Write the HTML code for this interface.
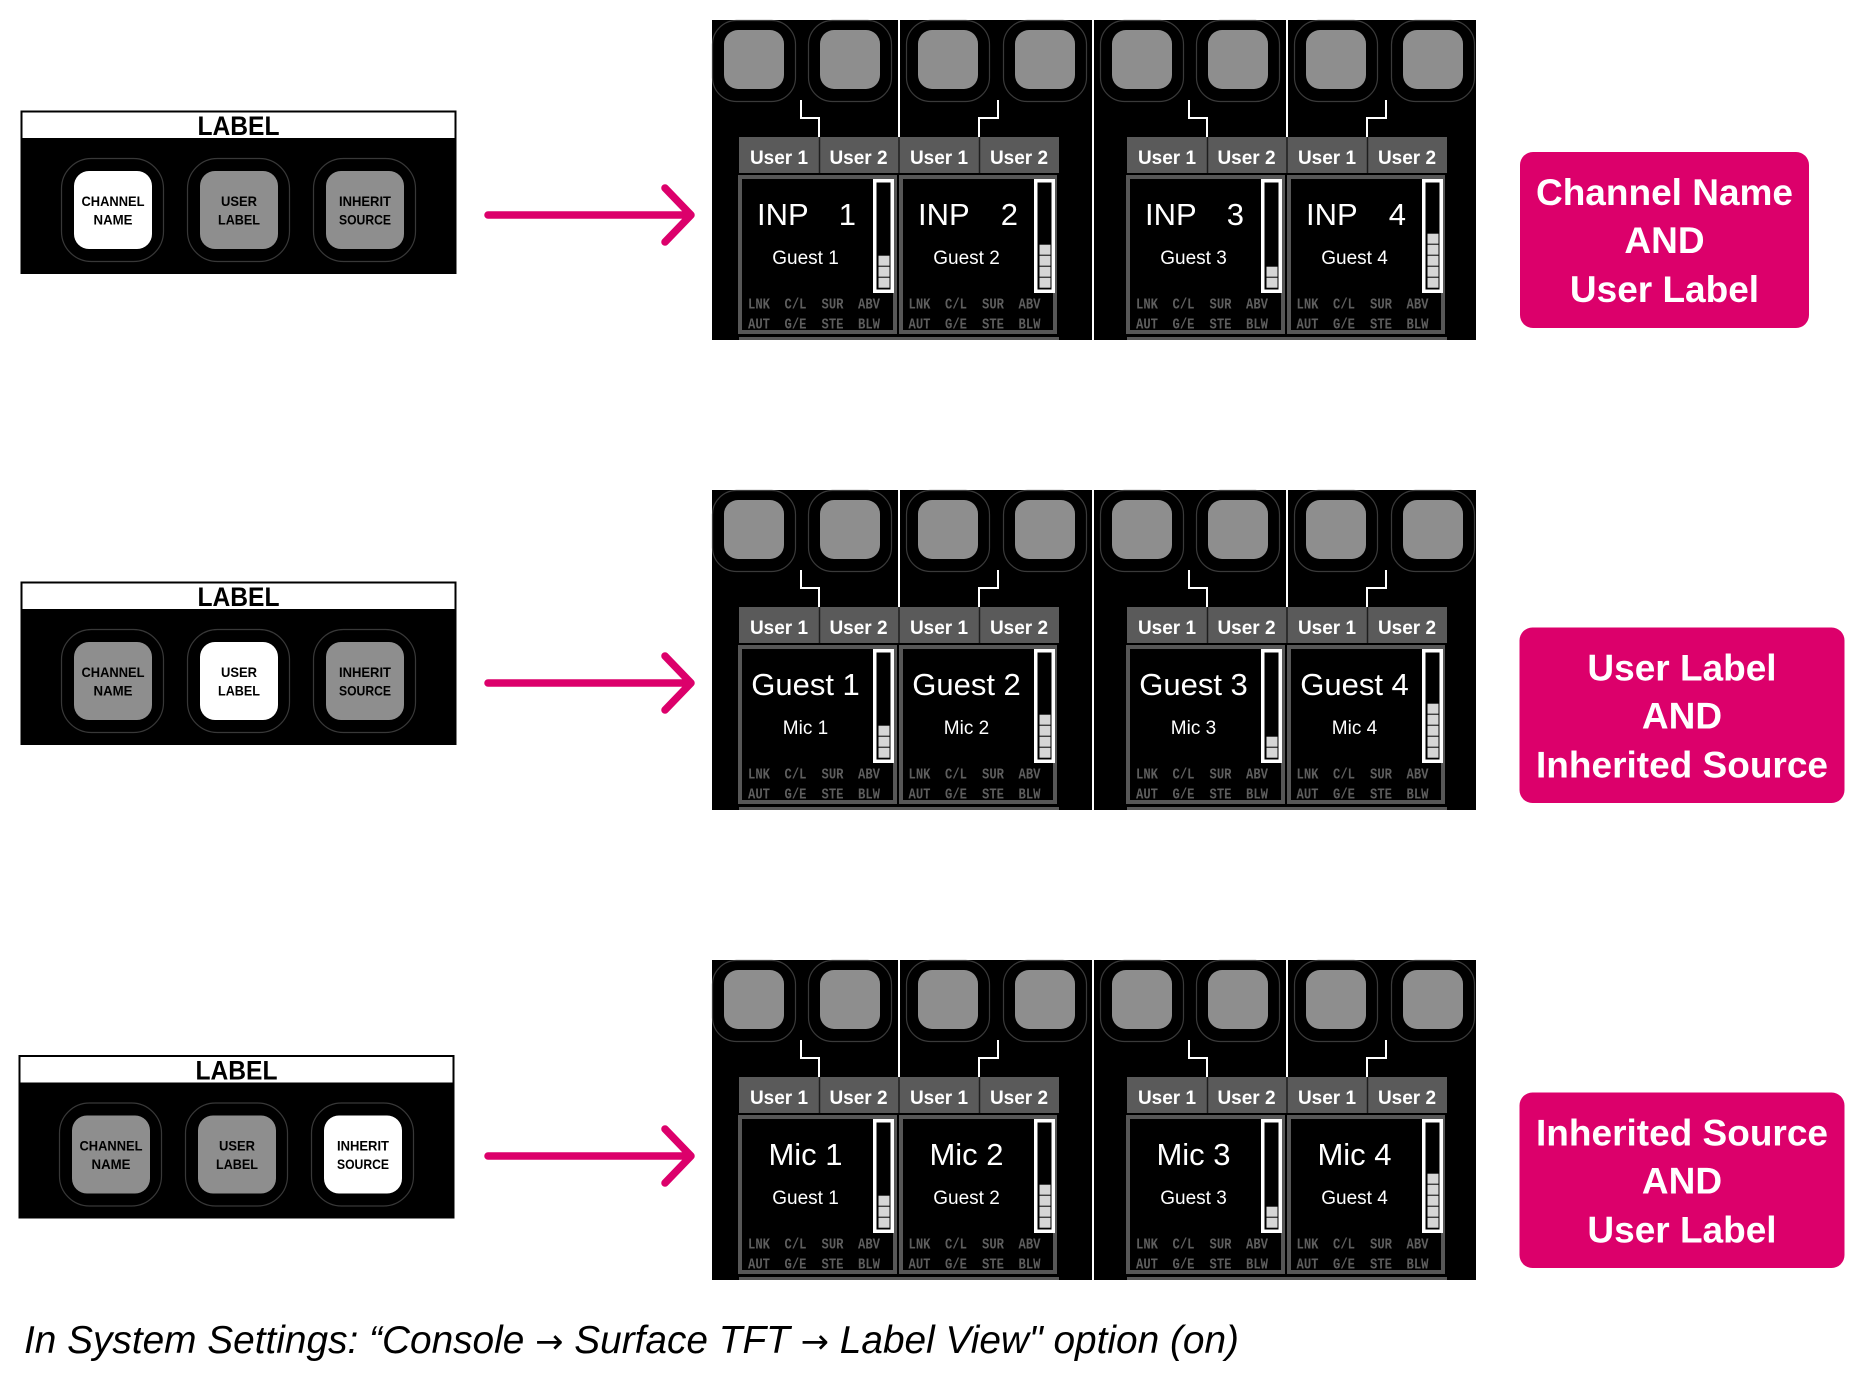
<!DOCTYPE html>
<html><head><meta charset="utf-8">
<style>html,body{margin:0;padding:0;background:#fff;}svg{display:block}</style>
</head><body>
<svg width="1860" height="1400" viewBox="0 0 1860 1400" xmlns="http://www.w3.org/2000/svg" font-family="'Liberation Sans', sans-serif">
<rect width="1860" height="1400" fill="#fff"/>

<!-- ================= LABEL PANELS ================= -->
<g>
<rect x="20.5" y="110.5" width="436" height="163.5" fill="#000"/>
<rect x="22.5" y="112.5" width="432" height="25.5" fill="#fff"/>
<text x="238.5" y="135" font-size="27" font-weight="bold" text-anchor="middle" textLength="82" lengthAdjust="spacingAndGlyphs">LABEL</text>
<rect x="61.5" y="158.5" width="102" height="103" rx="30" fill="none" stroke="#383838" stroke-width="1.2"/>
<rect x="187.5" y="158.5" width="102" height="103" rx="30" fill="none" stroke="#383838" stroke-width="1.2"/>
<rect x="313.5" y="158.5" width="102" height="103" rx="30" fill="none" stroke="#383838" stroke-width="1.2"/>
<rect x="74" y="171" width="78" height="78" rx="15" fill="#fff"/>
<rect x="200" y="171" width="78" height="78" rx="15" fill="#8e8e8e"/>
<rect x="326" y="171" width="78" height="78" rx="15" fill="#8e8e8e"/>
<g font-size="14" font-weight="bold" text-anchor="middle" fill="#000">
<text x="113" y="206" textLength="63" lengthAdjust="spacingAndGlyphs">CHANNEL</text><text x="113" y="224.5" textLength="39" lengthAdjust="spacingAndGlyphs">NAME</text>
<text x="239" y="206" textLength="36" lengthAdjust="spacingAndGlyphs">USER</text><text x="239" y="224.5" textLength="42" lengthAdjust="spacingAndGlyphs">LABEL</text>
<text x="365" y="206" textLength="52" lengthAdjust="spacingAndGlyphs">INHERIT</text><text x="365" y="224.5" textLength="52" lengthAdjust="spacingAndGlyphs">SOURCE</text>
</g>
</g>

<g transform="translate(0,471)">
<rect x="20.5" y="110.5" width="436" height="163.5" fill="#000"/>
<rect x="22.5" y="112.5" width="432" height="25.5" fill="#fff"/>
<text x="238.5" y="135" font-size="27" font-weight="bold" text-anchor="middle" textLength="82" lengthAdjust="spacingAndGlyphs">LABEL</text>
<rect x="61.5" y="158.5" width="102" height="103" rx="30" fill="none" stroke="#383838" stroke-width="1.2"/>
<rect x="187.5" y="158.5" width="102" height="103" rx="30" fill="none" stroke="#383838" stroke-width="1.2"/>
<rect x="313.5" y="158.5" width="102" height="103" rx="30" fill="none" stroke="#383838" stroke-width="1.2"/>
<rect x="74" y="171" width="78" height="78" rx="15" fill="#8e8e8e"/>
<rect x="200" y="171" width="78" height="78" rx="15" fill="#fff"/>
<rect x="326" y="171" width="78" height="78" rx="15" fill="#8e8e8e"/>
<g font-size="14" font-weight="bold" text-anchor="middle" fill="#000">
<text x="113" y="206" textLength="63" lengthAdjust="spacingAndGlyphs">CHANNEL</text><text x="113" y="224.5" textLength="39" lengthAdjust="spacingAndGlyphs">NAME</text>
<text x="239" y="206" textLength="36" lengthAdjust="spacingAndGlyphs">USER</text><text x="239" y="224.5" textLength="42" lengthAdjust="spacingAndGlyphs">LABEL</text>
<text x="365" y="206" textLength="52" lengthAdjust="spacingAndGlyphs">INHERIT</text><text x="365" y="224.5" textLength="52" lengthAdjust="spacingAndGlyphs">SOURCE</text>
</g>
</g>

<g transform="translate(-2,944.5)">
<rect x="20.5" y="110.5" width="436" height="163.5" fill="#000"/>
<rect x="22.5" y="112.5" width="432" height="25.5" fill="#fff"/>
<text x="238.5" y="135" font-size="27" font-weight="bold" text-anchor="middle" textLength="82" lengthAdjust="spacingAndGlyphs">LABEL</text>
<rect x="61.5" y="158.5" width="102" height="103" rx="30" fill="none" stroke="#383838" stroke-width="1.2"/>
<rect x="187.5" y="158.5" width="102" height="103" rx="30" fill="none" stroke="#383838" stroke-width="1.2"/>
<rect x="313.5" y="158.5" width="102" height="103" rx="30" fill="none" stroke="#383838" stroke-width="1.2"/>
<rect x="74" y="171" width="78" height="78" rx="15" fill="#8e8e8e"/>
<rect x="200" y="171" width="78" height="78" rx="15" fill="#8e8e8e"/>
<rect x="326" y="171" width="78" height="78" rx="15" fill="#fff"/>
<g font-size="14" font-weight="bold" text-anchor="middle" fill="#000">
<text x="113" y="206" textLength="63" lengthAdjust="spacingAndGlyphs">CHANNEL</text><text x="113" y="224.5" textLength="39" lengthAdjust="spacingAndGlyphs">NAME</text>
<text x="239" y="206" textLength="36" lengthAdjust="spacingAndGlyphs">USER</text><text x="239" y="224.5" textLength="42" lengthAdjust="spacingAndGlyphs">LABEL</text>
<text x="365" y="206" textLength="52" lengthAdjust="spacingAndGlyphs">INHERIT</text><text x="365" y="224.5" textLength="52" lengthAdjust="spacingAndGlyphs">SOURCE</text>
</g>
</g>

<!-- ================= ARROWS ================= -->
<g fill="none" stroke="#dc006b" stroke-width="7.5" stroke-linecap="round" stroke-linejoin="round">
<path d="M488,215 H690 M665,188 L691,215 L665,242"/>
<path d="M488,683 H690 M665,656 L691,683 L665,710"/>
<path d="M488,1156 H690 M665,1129 L691,1156 L665,1183"/>
</g>

<!-- ================= PINK BOXES ================= -->
<rect x="1520" y="152" width="289" height="176" rx="13" fill="#dc006b"/>
<rect x="1519.5" y="627.5" width="325" height="175.5" rx="13" fill="#dc006b"/>
<rect x="1519.5" y="1092.5" width="325" height="175.5" rx="13" fill="#dc006b"/>
<g font-size="37" font-weight="bold" fill="#fff" text-anchor="middle">
<text x="1664.5" y="205">Channel Name</text>
<text x="1664.5" y="253">AND</text>
<text x="1664.5" y="302">User Label</text>
<text x="1682" y="680.5">User Label</text>
<text x="1682" y="728.5">AND</text>
<text x="1682" y="777.5">Inherited Source</text>
<text x="1682" y="1145.5">Inherited Source</text>
<text x="1682" y="1193.5">AND</text>
<text x="1682" y="1242.5">User Label</text>
</g>

<!-- ================= BOTTOM TEXT ================= -->
<text x="24" y="1353" font-size="39" font-style="italic" fill="#000" textLength="1215" lengthAdjust="spacingAndGlyphs">In System Settings: “Console <tspan font-family="'DejaVu Sans', sans-serif" font-style="normal" font-size="34">→</tspan> Surface TFT <tspan font-family="'DejaVu Sans', sans-serif" font-style="normal" font-size="34">→</tspan> Label View&quot; option (on)</text>

<!-- ================= SCREEN BLOCK BACKGROUNDS ================= -->
<rect x="712" y="20" width="380" height="320" fill="#000"/>
<rect x="1094" y="20" width="382" height="320" fill="#000"/>
<rect x="712" y="490" width="380" height="320" fill="#000"/>
<rect x="1094" y="490" width="382" height="320" fill="#000"/>
<rect x="712" y="960" width="380" height="320" fill="#000"/>
<rect x="1094" y="960" width="382" height="320" fill="#000"/>

<!-- ========== BLOCK: row0 block1 ========== -->
<g transform="translate(0,0)">
<g fill="none" stroke="#3a3a3a" stroke-width="1.2">
<rect x="712.5" y="20.5" width="83" height="81" rx="24"/><rect x="808.5" y="20.5" width="83" height="81" rx="24"/>
<rect x="906.5" y="20.5" width="83" height="81" rx="24"/><rect x="1003.5" y="20.5" width="83" height="81" rx="24"/>
</g>
<g fill="#8e8e8e">
<rect x="724" y="30" width="60" height="59" rx="14"/><rect x="820" y="30" width="60" height="59" rx="14"/>
<rect x="918" y="30" width="60" height="59" rx="14"/><rect x="1015" y="30" width="60" height="59" rx="14"/>
</g>
<rect x="898" y="20" width="2" height="117" fill="#fff"/>
<g fill="none" stroke="#fff" stroke-width="2">
<polyline points="801,100 801,118 819,118 819,137"/><polyline points="998,100 998,118 979,118 979,137"/>
</g>
<rect x="739" y="137" width="320" height="36" fill="#5a5a5a"/>
<rect x="739" y="337" width="320" height="3" fill="#5a5a5a"/>
<g stroke="#1e1e1e" stroke-width="1.5"><line x1="819.5" y1="137" x2="819.5" y2="173"/><line x1="899" y1="137" x2="899" y2="173"/><line x1="979.5" y1="137" x2="979.5" y2="173"/></g>
<g font-size="19" font-weight="bold" fill="#fff" text-anchor="middle">
<text x="779" y="164">User 1</text><text x="858.5" y="164">User 2</text><text x="939" y="164">User 1</text><text x="1019" y="164">User 2</text>
</g>
<rect x="738" y="175" width="159" height="159" fill="#575757"/><rect x="742" y="179" width="151" height="151" fill="#000"/>
<rect x="899" y="175" width="158" height="159" fill="#575757"/><rect x="903" y="179" width="150" height="151" fill="#000"/>
<g fill="none" stroke="#fff" stroke-width="3.5"><rect x="874.75" y="180.75" width="17.5" height="110.5"/><rect x="1035.75" y="180.75" width="17.5" height="110.5"/></g>
<g font-family="'Liberation Mono', monospace" font-size="15" font-weight="bold" fill="#5e5e5e">
<text x="748" y="308.3" textLength="22" lengthAdjust="spacingAndGlyphs">LNK</text><text x="784.5" y="308.3" textLength="22" lengthAdjust="spacingAndGlyphs">C/L</text><text x="821.5" y="308.3" textLength="22" lengthAdjust="spacingAndGlyphs">SUR</text><text x="858" y="308.3" textLength="22" lengthAdjust="spacingAndGlyphs">ABV</text>
<text x="748" y="328.3" textLength="22" lengthAdjust="spacingAndGlyphs">AUT</text><text x="784.5" y="328.3" textLength="22" lengthAdjust="spacingAndGlyphs">G/E</text><text x="821.5" y="328.3" textLength="22" lengthAdjust="spacingAndGlyphs">STE</text><text x="858" y="328.3" textLength="22" lengthAdjust="spacingAndGlyphs">BLW</text>
<text x="908.5" y="308.3" textLength="22" lengthAdjust="spacingAndGlyphs">LNK</text><text x="945" y="308.3" textLength="22" lengthAdjust="spacingAndGlyphs">C/L</text><text x="982" y="308.3" textLength="22" lengthAdjust="spacingAndGlyphs">SUR</text><text x="1018.5" y="308.3" textLength="22" lengthAdjust="spacingAndGlyphs">ABV</text>
<text x="908.5" y="328.3" textLength="22" lengthAdjust="spacingAndGlyphs">AUT</text><text x="945" y="328.3" textLength="22" lengthAdjust="spacingAndGlyphs">G/E</text><text x="982" y="328.3" textLength="22" lengthAdjust="spacingAndGlyphs">STE</text><text x="1018.5" y="328.3" textLength="22" lengthAdjust="spacingAndGlyphs">BLW</text>
</g>
</g>
<g fill="#d6d6d6">
<rect x="878.5" y="277.7" width="11" height="10"/><rect x="878.5" y="266.7" width="11" height="10"/><rect x="878.5" y="255.7" width="11" height="10"/>
<rect x="1039.5" y="277.7" width="11" height="10"/><rect x="1039.5" y="266.7" width="11" height="10"/><rect x="1039.5" y="255.7" width="11" height="10"/><rect x="1039.5" y="244.7" width="11" height="10"/>
</g>
<g fill="#fff">
<text x="757" y="225" font-size="31">INP</text><text x="856" y="225" font-size="31" text-anchor="end">1</text>
<text x="805.5" y="264" font-size="19" text-anchor="middle">Guest 1</text>
<text x="918" y="225" font-size="31">INP</text><text x="1018" y="225" font-size="31" text-anchor="end">2</text>
<text x="966.5" y="264" font-size="19" text-anchor="middle">Guest 2</text>
</g>

<!-- ========== BLOCK: row0 block2 ========== -->
<g transform="translate(388,0)">
<g fill="none" stroke="#3a3a3a" stroke-width="1.2">
<rect x="712.5" y="20.5" width="83" height="81" rx="24"/><rect x="808.5" y="20.5" width="83" height="81" rx="24"/>
<rect x="906.5" y="20.5" width="83" height="81" rx="24"/><rect x="1003.5" y="20.5" width="83" height="81" rx="24"/>
</g>
<g fill="#8e8e8e">
<rect x="724" y="30" width="60" height="59" rx="14"/><rect x="820" y="30" width="60" height="59" rx="14"/>
<rect x="918" y="30" width="60" height="59" rx="14"/><rect x="1015" y="30" width="60" height="59" rx="14"/>
</g>
<rect x="898" y="20" width="2" height="117" fill="#fff"/>
<g fill="none" stroke="#fff" stroke-width="2">
<polyline points="801,100 801,118 819,118 819,137"/><polyline points="998,100 998,118 979,118 979,137"/>
</g>
<rect x="739" y="137" width="320" height="36" fill="#5a5a5a"/>
<rect x="739" y="337" width="320" height="3" fill="#5a5a5a"/>
<g stroke="#1e1e1e" stroke-width="1.5"><line x1="819.5" y1="137" x2="819.5" y2="173"/><line x1="899" y1="137" x2="899" y2="173"/><line x1="979.5" y1="137" x2="979.5" y2="173"/></g>
<g font-size="19" font-weight="bold" fill="#fff" text-anchor="middle">
<text x="779" y="164">User 1</text><text x="858.5" y="164">User 2</text><text x="939" y="164">User 1</text><text x="1019" y="164">User 2</text>
</g>
<rect x="738" y="175" width="159" height="159" fill="#575757"/><rect x="742" y="179" width="151" height="151" fill="#000"/>
<rect x="899" y="175" width="158" height="159" fill="#575757"/><rect x="903" y="179" width="150" height="151" fill="#000"/>
<g fill="none" stroke="#fff" stroke-width="3.5"><rect x="874.75" y="180.75" width="17.5" height="110.5"/><rect x="1035.75" y="180.75" width="17.5" height="110.5"/></g>
<g font-family="'Liberation Mono', monospace" font-size="15" font-weight="bold" fill="#5e5e5e">
<text x="748" y="308.3" textLength="22" lengthAdjust="spacingAndGlyphs">LNK</text><text x="784.5" y="308.3" textLength="22" lengthAdjust="spacingAndGlyphs">C/L</text><text x="821.5" y="308.3" textLength="22" lengthAdjust="spacingAndGlyphs">SUR</text><text x="858" y="308.3" textLength="22" lengthAdjust="spacingAndGlyphs">ABV</text>
<text x="748" y="328.3" textLength="22" lengthAdjust="spacingAndGlyphs">AUT</text><text x="784.5" y="328.3" textLength="22" lengthAdjust="spacingAndGlyphs">G/E</text><text x="821.5" y="328.3" textLength="22" lengthAdjust="spacingAndGlyphs">STE</text><text x="858" y="328.3" textLength="22" lengthAdjust="spacingAndGlyphs">BLW</text>
<text x="908.5" y="308.3" textLength="22" lengthAdjust="spacingAndGlyphs">LNK</text><text x="945" y="308.3" textLength="22" lengthAdjust="spacingAndGlyphs">C/L</text><text x="982" y="308.3" textLength="22" lengthAdjust="spacingAndGlyphs">SUR</text><text x="1018.5" y="308.3" textLength="22" lengthAdjust="spacingAndGlyphs">ABV</text>
<text x="908.5" y="328.3" textLength="22" lengthAdjust="spacingAndGlyphs">AUT</text><text x="945" y="328.3" textLength="22" lengthAdjust="spacingAndGlyphs">G/E</text><text x="982" y="328.3" textLength="22" lengthAdjust="spacingAndGlyphs">STE</text><text x="1018.5" y="328.3" textLength="22" lengthAdjust="spacingAndGlyphs">BLW</text>
</g>
<g fill="#d6d6d6">
<rect x="878.5" y="277.7" width="11" height="10"/><rect x="878.5" y="266.7" width="11" height="10"/>
<rect x="1039.5" y="277.7" width="11" height="10"/><rect x="1039.5" y="266.7" width="11" height="10"/><rect x="1039.5" y="255.7" width="11" height="10"/><rect x="1039.5" y="244.7" width="11" height="10"/><rect x="1039.5" y="233.7" width="11" height="10"/>
</g>
<g fill="#fff">
<text x="757" y="225" font-size="31">INP</text><text x="856" y="225" font-size="31" text-anchor="end">3</text>
<text x="805.5" y="264" font-size="19" text-anchor="middle">Guest 3</text>
<text x="918" y="225" font-size="31">INP</text><text x="1018" y="225" font-size="31" text-anchor="end">4</text>
<text x="966.5" y="264" font-size="19" text-anchor="middle">Guest 4</text>
</g>
</g>

<!-- ========== BLOCK: row1 block1 ========== -->
<g transform="translate(0,470)">
<g fill="none" stroke="#3a3a3a" stroke-width="1.2">
<rect x="712.5" y="20.5" width="83" height="81" rx="24"/><rect x="808.5" y="20.5" width="83" height="81" rx="24"/>
<rect x="906.5" y="20.5" width="83" height="81" rx="24"/><rect x="1003.5" y="20.5" width="83" height="81" rx="24"/>
</g>
<g fill="#8e8e8e">
<rect x="724" y="30" width="60" height="59" rx="14"/><rect x="820" y="30" width="60" height="59" rx="14"/>
<rect x="918" y="30" width="60" height="59" rx="14"/><rect x="1015" y="30" width="60" height="59" rx="14"/>
</g>
<rect x="898" y="20" width="2" height="117" fill="#fff"/>
<g fill="none" stroke="#fff" stroke-width="2">
<polyline points="801,100 801,118 819,118 819,137"/><polyline points="998,100 998,118 979,118 979,137"/>
</g>
<rect x="739" y="137" width="320" height="36" fill="#5a5a5a"/>
<rect x="739" y="337" width="320" height="3" fill="#5a5a5a"/>
<g stroke="#1e1e1e" stroke-width="1.5"><line x1="819.5" y1="137" x2="819.5" y2="173"/><line x1="899" y1="137" x2="899" y2="173"/><line x1="979.5" y1="137" x2="979.5" y2="173"/></g>
<g font-size="19" font-weight="bold" fill="#fff" text-anchor="middle">
<text x="779" y="164">User 1</text><text x="858.5" y="164">User 2</text><text x="939" y="164">User 1</text><text x="1019" y="164">User 2</text>
</g>
<rect x="738" y="175" width="159" height="159" fill="#575757"/><rect x="742" y="179" width="151" height="151" fill="#000"/>
<rect x="899" y="175" width="158" height="159" fill="#575757"/><rect x="903" y="179" width="150" height="151" fill="#000"/>
<g fill="none" stroke="#fff" stroke-width="3.5"><rect x="874.75" y="180.75" width="17.5" height="110.5"/><rect x="1035.75" y="180.75" width="17.5" height="110.5"/></g>
<g font-family="'Liberation Mono', monospace" font-size="15" font-weight="bold" fill="#5e5e5e">
<text x="748" y="308.3" textLength="22" lengthAdjust="spacingAndGlyphs">LNK</text><text x="784.5" y="308.3" textLength="22" lengthAdjust="spacingAndGlyphs">C/L</text><text x="821.5" y="308.3" textLength="22" lengthAdjust="spacingAndGlyphs">SUR</text><text x="858" y="308.3" textLength="22" lengthAdjust="spacingAndGlyphs">ABV</text>
<text x="748" y="328.3" textLength="22" lengthAdjust="spacingAndGlyphs">AUT</text><text x="784.5" y="328.3" textLength="22" lengthAdjust="spacingAndGlyphs">G/E</text><text x="821.5" y="328.3" textLength="22" lengthAdjust="spacingAndGlyphs">STE</text><text x="858" y="328.3" textLength="22" lengthAdjust="spacingAndGlyphs">BLW</text>
<text x="908.5" y="308.3" textLength="22" lengthAdjust="spacingAndGlyphs">LNK</text><text x="945" y="308.3" textLength="22" lengthAdjust="spacingAndGlyphs">C/L</text><text x="982" y="308.3" textLength="22" lengthAdjust="spacingAndGlyphs">SUR</text><text x="1018.5" y="308.3" textLength="22" lengthAdjust="spacingAndGlyphs">ABV</text>
<text x="908.5" y="328.3" textLength="22" lengthAdjust="spacingAndGlyphs">AUT</text><text x="945" y="328.3" textLength="22" lengthAdjust="spacingAndGlyphs">G/E</text><text x="982" y="328.3" textLength="22" lengthAdjust="spacingAndGlyphs">STE</text><text x="1018.5" y="328.3" textLength="22" lengthAdjust="spacingAndGlyphs">BLW</text>
</g>
<g fill="#d6d6d6">
<rect x="878.5" y="277.7" width="11" height="10"/><rect x="878.5" y="266.7" width="11" height="10"/><rect x="878.5" y="255.7" width="11" height="10"/>
<rect x="1039.5" y="277.7" width="11" height="10"/><rect x="1039.5" y="266.7" width="11" height="10"/><rect x="1039.5" y="255.7" width="11" height="10"/><rect x="1039.5" y="244.7" width="11" height="10"/>
</g>
<g fill="#fff" text-anchor="middle">
<text x="805.5" y="225" font-size="31">Guest 1</text>
<text x="805.5" y="264" font-size="19">Mic 1</text>
<text x="966.5" y="225" font-size="31">Guest 2</text>
<text x="966.5" y="264" font-size="19">Mic 2</text>
</g>
</g>

<!-- ========== BLOCK: row1 block2 ========== -->
<g transform="translate(388,470)">
<g fill="none" stroke="#3a3a3a" stroke-width="1.2">
<rect x="712.5" y="20.5" width="83" height="81" rx="24"/><rect x="808.5" y="20.5" width="83" height="81" rx="24"/>
<rect x="906.5" y="20.5" width="83" height="81" rx="24"/><rect x="1003.5" y="20.5" width="83" height="81" rx="24"/>
</g>
<g fill="#8e8e8e">
<rect x="724" y="30" width="60" height="59" rx="14"/><rect x="820" y="30" width="60" height="59" rx="14"/>
<rect x="918" y="30" width="60" height="59" rx="14"/><rect x="1015" y="30" width="60" height="59" rx="14"/>
</g>
<rect x="898" y="20" width="2" height="117" fill="#fff"/>
<g fill="none" stroke="#fff" stroke-width="2">
<polyline points="801,100 801,118 819,118 819,137"/><polyline points="998,100 998,118 979,118 979,137"/>
</g>
<rect x="739" y="137" width="320" height="36" fill="#5a5a5a"/>
<rect x="739" y="337" width="320" height="3" fill="#5a5a5a"/>
<g stroke="#1e1e1e" stroke-width="1.5"><line x1="819.5" y1="137" x2="819.5" y2="173"/><line x1="899" y1="137" x2="899" y2="173"/><line x1="979.5" y1="137" x2="979.5" y2="173"/></g>
<g font-size="19" font-weight="bold" fill="#fff" text-anchor="middle">
<text x="779" y="164">User 1</text><text x="858.5" y="164">User 2</text><text x="939" y="164">User 1</text><text x="1019" y="164">User 2</text>
</g>
<rect x="738" y="175" width="159" height="159" fill="#575757"/><rect x="742" y="179" width="151" height="151" fill="#000"/>
<rect x="899" y="175" width="158" height="159" fill="#575757"/><rect x="903" y="179" width="150" height="151" fill="#000"/>
<g fill="none" stroke="#fff" stroke-width="3.5"><rect x="874.75" y="180.75" width="17.5" height="110.5"/><rect x="1035.75" y="180.75" width="17.5" height="110.5"/></g>
<g font-family="'Liberation Mono', monospace" font-size="15" font-weight="bold" fill="#5e5e5e">
<text x="748" y="308.3" textLength="22" lengthAdjust="spacingAndGlyphs">LNK</text><text x="784.5" y="308.3" textLength="22" lengthAdjust="spacingAndGlyphs">C/L</text><text x="821.5" y="308.3" textLength="22" lengthAdjust="spacingAndGlyphs">SUR</text><text x="858" y="308.3" textLength="22" lengthAdjust="spacingAndGlyphs">ABV</text>
<text x="748" y="328.3" textLength="22" lengthAdjust="spacingAndGlyphs">AUT</text><text x="784.5" y="328.3" textLength="22" lengthAdjust="spacingAndGlyphs">G/E</text><text x="821.5" y="328.3" textLength="22" lengthAdjust="spacingAndGlyphs">STE</text><text x="858" y="328.3" textLength="22" lengthAdjust="spacingAndGlyphs">BLW</text>
<text x="908.5" y="308.3" textLength="22" lengthAdjust="spacingAndGlyphs">LNK</text><text x="945" y="308.3" textLength="22" lengthAdjust="spacingAndGlyphs">C/L</text><text x="982" y="308.3" textLength="22" lengthAdjust="spacingAndGlyphs">SUR</text><text x="1018.5" y="308.3" textLength="22" lengthAdjust="spacingAndGlyphs">ABV</text>
<text x="908.5" y="328.3" textLength="22" lengthAdjust="spacingAndGlyphs">AUT</text><text x="945" y="328.3" textLength="22" lengthAdjust="spacingAndGlyphs">G/E</text><text x="982" y="328.3" textLength="22" lengthAdjust="spacingAndGlyphs">STE</text><text x="1018.5" y="328.3" textLength="22" lengthAdjust="spacingAndGlyphs">BLW</text>
</g>
<g fill="#d6d6d6">
<rect x="878.5" y="277.7" width="11" height="10"/><rect x="878.5" y="266.7" width="11" height="10"/>
<rect x="1039.5" y="277.7" width="11" height="10"/><rect x="1039.5" y="266.7" width="11" height="10"/><rect x="1039.5" y="255.7" width="11" height="10"/><rect x="1039.5" y="244.7" width="11" height="10"/><rect x="1039.5" y="233.7" width="11" height="10"/>
</g>
<g fill="#fff" text-anchor="middle">
<text x="805.5" y="225" font-size="31">Guest 3</text>
<text x="805.5" y="264" font-size="19">Mic 3</text>
<text x="966.5" y="225" font-size="31">Guest 4</text>
<text x="966.5" y="264" font-size="19">Mic 4</text>
</g>
</g>

<!-- ========== BLOCK: row2 block1 ========== -->
<g transform="translate(0,940)">
<g fill="none" stroke="#3a3a3a" stroke-width="1.2">
<rect x="712.5" y="20.5" width="83" height="81" rx="24"/><rect x="808.5" y="20.5" width="83" height="81" rx="24"/>
<rect x="906.5" y="20.5" width="83" height="81" rx="24"/><rect x="1003.5" y="20.5" width="83" height="81" rx="24"/>
</g>
<g fill="#8e8e8e">
<rect x="724" y="30" width="60" height="59" rx="14"/><rect x="820" y="30" width="60" height="59" rx="14"/>
<rect x="918" y="30" width="60" height="59" rx="14"/><rect x="1015" y="30" width="60" height="59" rx="14"/>
</g>
<rect x="898" y="20" width="2" height="117" fill="#fff"/>
<g fill="none" stroke="#fff" stroke-width="2">
<polyline points="801,100 801,118 819,118 819,137"/><polyline points="998,100 998,118 979,118 979,137"/>
</g>
<rect x="739" y="137" width="320" height="36" fill="#5a5a5a"/>
<rect x="739" y="337" width="320" height="3" fill="#5a5a5a"/>
<g stroke="#1e1e1e" stroke-width="1.5"><line x1="819.5" y1="137" x2="819.5" y2="173"/><line x1="899" y1="137" x2="899" y2="173"/><line x1="979.5" y1="137" x2="979.5" y2="173"/></g>
<g font-size="19" font-weight="bold" fill="#fff" text-anchor="middle">
<text x="779" y="164">User 1</text><text x="858.5" y="164">User 2</text><text x="939" y="164">User 1</text><text x="1019" y="164">User 2</text>
</g>
<rect x="738" y="175" width="159" height="159" fill="#575757"/><rect x="742" y="179" width="151" height="151" fill="#000"/>
<rect x="899" y="175" width="158" height="159" fill="#575757"/><rect x="903" y="179" width="150" height="151" fill="#000"/>
<g fill="none" stroke="#fff" stroke-width="3.5"><rect x="874.75" y="180.75" width="17.5" height="110.5"/><rect x="1035.75" y="180.75" width="17.5" height="110.5"/></g>
<g font-family="'Liberation Mono', monospace" font-size="15" font-weight="bold" fill="#5e5e5e">
<text x="748" y="308.3" textLength="22" lengthAdjust="spacingAndGlyphs">LNK</text><text x="784.5" y="308.3" textLength="22" lengthAdjust="spacingAndGlyphs">C/L</text><text x="821.5" y="308.3" textLength="22" lengthAdjust="spacingAndGlyphs">SUR</text><text x="858" y="308.3" textLength="22" lengthAdjust="spacingAndGlyphs">ABV</text>
<text x="748" y="328.3" textLength="22" lengthAdjust="spacingAndGlyphs">AUT</text><text x="784.5" y="328.3" textLength="22" lengthAdjust="spacingAndGlyphs">G/E</text><text x="821.5" y="328.3" textLength="22" lengthAdjust="spacingAndGlyphs">STE</text><text x="858" y="328.3" textLength="22" lengthAdjust="spacingAndGlyphs">BLW</text>
<text x="908.5" y="308.3" textLength="22" lengthAdjust="spacingAndGlyphs">LNK</text><text x="945" y="308.3" textLength="22" lengthAdjust="spacingAndGlyphs">C/L</text><text x="982" y="308.3" textLength="22" lengthAdjust="spacingAndGlyphs">SUR</text><text x="1018.5" y="308.3" textLength="22" lengthAdjust="spacingAndGlyphs">ABV</text>
<text x="908.5" y="328.3" textLength="22" lengthAdjust="spacingAndGlyphs">AUT</text><text x="945" y="328.3" textLength="22" lengthAdjust="spacingAndGlyphs">G/E</text><text x="982" y="328.3" textLength="22" lengthAdjust="spacingAndGlyphs">STE</text><text x="1018.5" y="328.3" textLength="22" lengthAdjust="spacingAndGlyphs">BLW</text>
</g>
<g fill="#d6d6d6">
<rect x="878.5" y="277.7" width="11" height="10"/><rect x="878.5" y="266.7" width="11" height="10"/><rect x="878.5" y="255.7" width="11" height="10"/>
<rect x="1039.5" y="277.7" width="11" height="10"/><rect x="1039.5" y="266.7" width="11" height="10"/><rect x="1039.5" y="255.7" width="11" height="10"/><rect x="1039.5" y="244.7" width="11" height="10"/>
</g>
<g fill="#fff" text-anchor="middle">
<text x="805.5" y="225" font-size="31">Mic 1</text>
<text x="805.5" y="264" font-size="19">Guest 1</text>
<text x="966.5" y="225" font-size="31">Mic 2</text>
<text x="966.5" y="264" font-size="19">Guest 2</text>
</g>
</g>

<!-- ========== BLOCK: row2 block2 ========== -->
<g transform="translate(388,940)">
<g fill="none" stroke="#3a3a3a" stroke-width="1.2">
<rect x="712.5" y="20.5" width="83" height="81" rx="24"/><rect x="808.5" y="20.5" width="83" height="81" rx="24"/>
<rect x="906.5" y="20.5" width="83" height="81" rx="24"/><rect x="1003.5" y="20.5" width="83" height="81" rx="24"/>
</g>
<g fill="#8e8e8e">
<rect x="724" y="30" width="60" height="59" rx="14"/><rect x="820" y="30" width="60" height="59" rx="14"/>
<rect x="918" y="30" width="60" height="59" rx="14"/><rect x="1015" y="30" width="60" height="59" rx="14"/>
</g>
<rect x="898" y="20" width="2" height="117" fill="#fff"/>
<g fill="none" stroke="#fff" stroke-width="2">
<polyline points="801,100 801,118 819,118 819,137"/><polyline points="998,100 998,118 979,118 979,137"/>
</g>
<rect x="739" y="137" width="320" height="36" fill="#5a5a5a"/>
<rect x="739" y="337" width="320" height="3" fill="#5a5a5a"/>
<g stroke="#1e1e1e" stroke-width="1.5"><line x1="819.5" y1="137" x2="819.5" y2="173"/><line x1="899" y1="137" x2="899" y2="173"/><line x1="979.5" y1="137" x2="979.5" y2="173"/></g>
<g font-size="19" font-weight="bold" fill="#fff" text-anchor="middle">
<text x="779" y="164">User 1</text><text x="858.5" y="164">User 2</text><text x="939" y="164">User 1</text><text x="1019" y="164">User 2</text>
</g>
<rect x="738" y="175" width="159" height="159" fill="#575757"/><rect x="742" y="179" width="151" height="151" fill="#000"/>
<rect x="899" y="175" width="158" height="159" fill="#575757"/><rect x="903" y="179" width="150" height="151" fill="#000"/>
<g fill="none" stroke="#fff" stroke-width="3.5"><rect x="874.75" y="180.75" width="17.5" height="110.5"/><rect x="1035.75" y="180.75" width="17.5" height="110.5"/></g>
<g font-family="'Liberation Mono', monospace" font-size="15" font-weight="bold" fill="#5e5e5e">
<text x="748" y="308.3" textLength="22" lengthAdjust="spacingAndGlyphs">LNK</text><text x="784.5" y="308.3" textLength="22" lengthAdjust="spacingAndGlyphs">C/L</text><text x="821.5" y="308.3" textLength="22" lengthAdjust="spacingAndGlyphs">SUR</text><text x="858" y="308.3" textLength="22" lengthAdjust="spacingAndGlyphs">ABV</text>
<text x="748" y="328.3" textLength="22" lengthAdjust="spacingAndGlyphs">AUT</text><text x="784.5" y="328.3" textLength="22" lengthAdjust="spacingAndGlyphs">G/E</text><text x="821.5" y="328.3" textLength="22" lengthAdjust="spacingAndGlyphs">STE</text><text x="858" y="328.3" textLength="22" lengthAdjust="spacingAndGlyphs">BLW</text>
<text x="908.5" y="308.3" textLength="22" lengthAdjust="spacingAndGlyphs">LNK</text><text x="945" y="308.3" textLength="22" lengthAdjust="spacingAndGlyphs">C/L</text><text x="982" y="308.3" textLength="22" lengthAdjust="spacingAndGlyphs">SUR</text><text x="1018.5" y="308.3" textLength="22" lengthAdjust="spacingAndGlyphs">ABV</text>
<text x="908.5" y="328.3" textLength="22" lengthAdjust="spacingAndGlyphs">AUT</text><text x="945" y="328.3" textLength="22" lengthAdjust="spacingAndGlyphs">G/E</text><text x="982" y="328.3" textLength="22" lengthAdjust="spacingAndGlyphs">STE</text><text x="1018.5" y="328.3" textLength="22" lengthAdjust="spacingAndGlyphs">BLW</text>
</g>
<g fill="#d6d6d6">
<rect x="878.5" y="277.7" width="11" height="10"/><rect x="878.5" y="266.7" width="11" height="10"/>
<rect x="1039.5" y="277.7" width="11" height="10"/><rect x="1039.5" y="266.7" width="11" height="10"/><rect x="1039.5" y="255.7" width="11" height="10"/><rect x="1039.5" y="244.7" width="11" height="10"/><rect x="1039.5" y="233.7" width="11" height="10"/>
</g>
<g fill="#fff" text-anchor="middle">
<text x="805.5" y="225" font-size="31">Mic 3</text>
<text x="805.5" y="264" font-size="19">Guest 3</text>
<text x="966.5" y="225" font-size="31">Mic 4</text>
<text x="966.5" y="264" font-size="19">Guest 4</text>
</g>
</g>

</svg>
</body></html>
